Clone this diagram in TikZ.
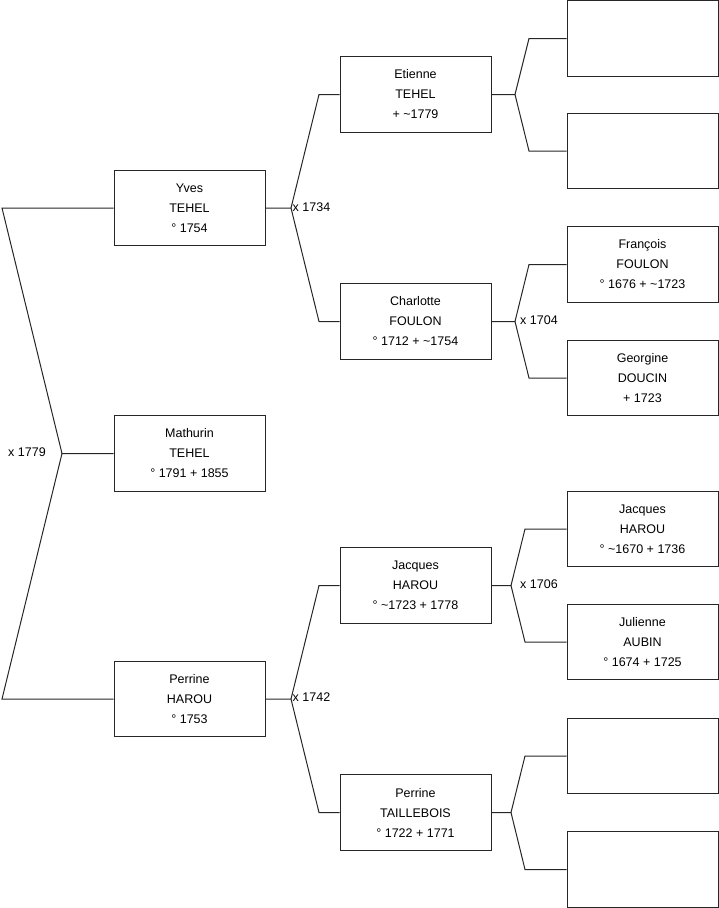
\documentclass[tikz,border=0pt]{standalone}
\usepackage{fontspec}
\setmainfont{Liberation Sans}
\begin{document}
\begin{tikzpicture}[x=1pt,y=-1pt,
  pbox/.style={draw=black!85, line width=1pt, minimum width=151pt, minimum height=75.5pt, inner sep=0pt, align=center, font=\fontsize{12.5}{20}\selectfont},
  link/.style={draw=black!85, line width=1pt},
  mlabel/.style={font=\fontsize{12.5}{15}\selectfont, inner sep=0pt}]
\useasboundingbox (0,0) rectangle (719,908);
% generation 0 and 1
\node[pbox] (yves) at (189.5,208) {Yves\\TEHEL\\° 1754};
\node[pbox] (mathurin) at (189.5,453.5) {Mathurin\\TEHEL\\° 1791 + 1855};
\node[pbox] (perrineh) at (189.5,699) {Perrine\\HAROU\\° 1753};
% generation 2
\node[pbox] (etienne) at (415.5,94.5) {Etienne\\TEHEL\\+ \textasciitilde1779};
\node[pbox] (charlotte) at (415.5,321.5) {Charlotte\\FOULON\\° 1712 + \textasciitilde1754};
\node[pbox] (jacquesa) at (415.5,585.5) {Jacques\\HAROU\\° \textasciitilde1723 + 1778};
\node[pbox] (perrinet) at (415.5,812.5) {Perrine\\TAILLEBOIS\\° 1722 + 1771};
% generation 3
\node[pbox] (ga) at (642.5,38.5) {};
\node[pbox] (gb) at (642.5,151) {};
\node[pbox] (francois) at (642.5,264.5) {François\\FOULON\\° 1676 + \textasciitilde1723};
\node[pbox] (georgine) at (642.5,378) {Georgine\\DOUCIN\\+ 1723};
\node[pbox] (jacquesb) at (642.5,529) {Jacques\\HAROU\\° \textasciitilde1670 + 1736};
\node[pbox] (julienne) at (642.5,642) {Julienne\\AUBIN\\° 1674 + 1725};
\node[pbox] (gg) at (642.5,756) {};
\node[pbox] (gh) at (642.5,869.5) {};
% fork coordinates
\coordinate (f0) at (62,453.5);
\coordinate (f0a) at (2,208);
\coordinate (f0b) at (2,699);
\coordinate (f1) at (291,208);
\coordinate (f1a) at (319,94.5);
\coordinate (f1b) at (319,321.5);
\coordinate (f2) at (291,699);
\coordinate (f2a) at (319,585.5);
\coordinate (f2b) at (319,812.5);
\coordinate (f3) at (515,94.5);
\coordinate (f3a) at (529,38.5);
\coordinate (f3b) at (529,151);
\coordinate (f4) at (515,321.5);
\coordinate (f4a) at (529,264.5);
\coordinate (f4b) at (529,378);
\coordinate (f5) at (511,585.5);
\coordinate (f5a) at (525,529);
\coordinate (f5b) at (525,642);
\coordinate (f6) at (511,812.5);
\coordinate (f6a) at (525,756);
\coordinate (f6b) at (525,869.5);
% connectors
\draw[link] (mathurin.west) -- (f0) -- (f0a) -- (yves.west);
\draw[link] (f0) -- (f0b) -- (perrineh.west);
\draw[link] (yves.east) -- (f1) -- (f1a) -- (etienne.west);
\draw[link] (f1) -- (f1b) -- (charlotte.west);
\draw[link] (perrineh.east) -- (f2) -- (f2a) -- (jacquesa.west);
\draw[link] (f2) -- (f2b) -- (perrinet.west);
\draw[link] (etienne.east) -- (f3) -- (f3a) -- (ga.west);
\draw[link] (f3) -- (f3b) -- (gb.west);
\draw[link] (charlotte.east) -- (f4) -- (f4a) -- (francois.west);
\draw[link] (f4) -- (f4b) -- (georgine.west);
\draw[link] (jacquesa.east) -- (f5) -- (f5a) -- (jacquesb.west);
\draw[link] (f5) -- (f5b) -- (julienne.west);
\draw[link] (perrinet.east) -- (f6) -- (f6a) -- (gg.west);
\draw[link] (f6) -- (f6b) -- (gh.west);
% marriage labels
\node[mlabel] (m1779) at (27,452.5) {x 1779};
\node[mlabel, anchor=west] (m1734) at (292.5,207.5) {x 1734};
\node[mlabel, anchor=west] (m1742) at (292.5,697.5) {x 1742};
\node[mlabel, anchor=west] (m1704) at (520,320.5) {x 1704};
\node[mlabel, anchor=west] (m1706) at (520,584) {x 1706};
\end{tikzpicture}
\end{document}
